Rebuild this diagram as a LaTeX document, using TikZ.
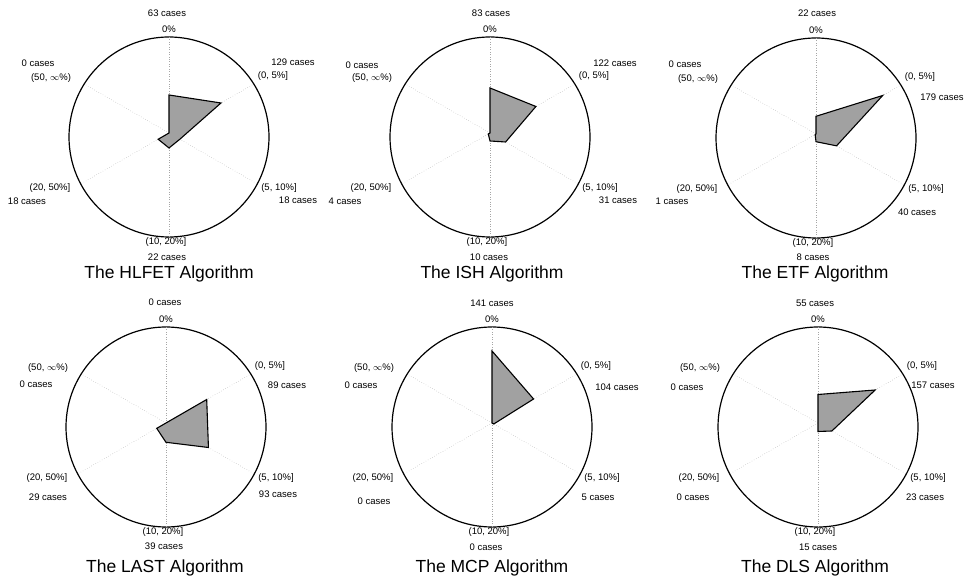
\documentclass[tikz,border=0pt]{standalone}
\usepackage{fontspec}
\setmainfont{Liberation Sans}
\usetikzlibrary{calc}

% circle, six spokes and the interval labels round a hub
\newcommand{\radarframe}[1]{%
  \draw [rim] ([yshift=-4pt]#1) circle (100pt);
  \begin{scope}
    \clip ([yshift=-4pt]#1) circle (100pt);
    \foreach \ang in {90,30,-30,-90,-150,150}
      \draw [spoke] (#1) -- ++(\ang:120pt);
  \end{scope}
  \node [lab] (#1-k0) at ($(#1)+(0,104)$)     {0\%};
  \node [lab] (#1-k1) at ($(#1)+(104,57)$)    {(0, 5\%]};
  \node [lab] (#1-k2) at ($(#1)+(110,-55)$)   {(5, 10\%]};
  \node [lab] (#1-k3) at ($(#1)+(-3,-109)$)   {(10, 20\%]};
  \node [lab] (#1-k4) at ($(#1)+(-119,-55)$)  {(20, 50\%]};
  \node [lab] (#1-k5) at ($(#1)+(-118,55)$)   {(50, $\infty$\%)};
}

\begin{document}
\begin{tikzpicture}[x=1pt,y=1pt,
    rim/.style={line width=1.2pt},
    spoke/.style={dotted,line width=0.45pt,black!35},
    area/.style={draw,line width=1.1pt,fill=black!37,line join=miter},
    lab/.style={font=\fontsize{9.5}{11}\selectfont,inner sep=0pt},
    ttl/.style={font=\fontsize{17.5}{21}\selectfont,inner sep=0pt}]

  \useasboundingbox (0,0) rectangle (968,585);

  \coordinate (hlfet) at (169,452);
  \coordinate (ish)   at (490,452);
  \coordinate (etf)   at (816,451);
  \coordinate (last)  at (166,162);
  \coordinate (mcp)   at (492,162);
  \coordinate (dls)   at (818,162);

  % HLFET
  \radarframe{hlfet}
  \begin{scope}[shift={(hlfet)}]
    \draw [area] (90:38) -- (30:60) -- (-30:12.5) -- (-90:15) -- (210:12.5) -- (150:0) -- cycle;
  \end{scope}
  \node [lab] (hlfet-n0) at ($(hlfet)+(-2,120)$)    {63 cases};
  \node [lab] (hlfet-n1) at ($(hlfet)+(124,71)$)    {129 cases};
  \node [lab] (hlfet-n2) at ($(hlfet)+(129,-67)$)   {18 cases};
  \node [lab] (hlfet-n3) at ($(hlfet)+(-2,-124)$)   {22 cases};
  \node [lab] (hlfet-n4) at ($(hlfet)+(-142,-68)$)  {18 cases};
  \node [lab] (hlfet-n5) at ($(hlfet)+(-131,70)$)   {0 cases};
  \node [ttl] (hlfet-t)  at ($(hlfet)+(0,-141)$)    {The HLFET Algorithm};

  % ISH
  \radarframe{ish}
  \begin{scope}[shift={(ish)}]
    \draw [area] (90:45) -- (30:53) -- (-30:18) -- (-90:8) -- (210:2) -- (150:0) -- cycle;
  \end{scope}
  \node [lab] (ish-n0) at ($(ish)+(1,120)$)     {83 cases};
  \node [lab] (ish-n1) at ($(ish)+(125,70)$)    {122 cases};
  \node [lab] (ish-n2) at ($(ish)+(128,-67)$)   {31 cases};
  \node [lab] (ish-n3) at ($(ish)+(-1,-124)$)   {10 cases};
  \node [lab] (ish-n4) at ($(ish)+(-145,-68)$)  {4 cases};
  \node [lab] (ish-n5) at ($(ish)+(-128,68)$)   {0 cases};
  \node [ttl] (ish-t)  at ($(ish)+(2,-141)$)    {The ISH Algorithm};

  % ETF
  \radarframe{etf}
  \begin{scope}[shift={(etf)}]
    \draw [area] (90:17.7) -- (30:77) -- (-30:23.7) -- (-90:7.7) -- (210:1) -- (150:0) -- cycle;
  \end{scope}
  \node [lab] (etf-n0) at ($(etf)+(1,121)$)     {22 cases};
  \node [lab] (etf-n1) at ($(etf)+(126,37)$)    {179 cases};
  \node [lab] (etf-n2) at ($(etf)+(101,-78)$)   {40 cases};
  \node [lab] (etf-n3) at ($(etf)+(-3,-123)$)   {8 cases};
  \node [lab] (etf-n4) at ($(etf)+(-144,-67)$)  {1 cases};
  \node [lab] (etf-n5) at ($(etf)+(-131,70)$)   {0 cases};
  \node [ttl] (etf-t)  at ($(etf)+(-1,-140)$)   {The ETF Algorithm};

  % LAST
  \radarframe{last}
  \begin{scope}[shift={(last)}]
    \draw [area] (90:0) -- (30:47) -- (-30:49) -- (-90:19.3) -- (210:10.7) -- (150:0) -- cycle;
  \end{scope}
  \node [lab] (last-n0) at ($(last)+(-1,121)$)    {0 cases};
  \node [lab] (last-n1) at ($(last)+(121,38)$)    {89 cases};
  \node [lab] (last-n2) at ($(last)+(112,-71)$)   {93 cases};
  \node [lab] (last-n3) at ($(last)+(-2,-123)$)   {39 cases};
  \node [lab] (last-n4) at ($(last)+(-118,-74)$)  {29 cases};
  \node [lab] (last-n5) at ($(last)+(-130,39)$)   {0 cases};
  \node [ttl] (last-t)  at ($(last)+(-1,-145)$)   {The LAST Algorithm};

  % MCP
  \radarframe{mcp}
  \begin{scope}[shift={(mcp)}]
    \draw [area] (90:72) -- (30:48) -- (-30:2) -- (-90:0) -- (210:0) -- (150:0) -- cycle;
  \end{scope}
  \node [lab] (mcp-n0) at ($(mcp)+(0,120)$)     {141 cases};
  \node [lab] (mcp-n1) at ($(mcp)+(125,36)$)    {104 cases};
  \node [lab] (mcp-n2) at ($(mcp)+(106,-74)$)   {5 cases};
  \node [lab] (mcp-n3) at ($(mcp)+(-6,-124)$)   {0 cases};
  \node [lab] (mcp-n4) at ($(mcp)+(-118,-78)$)  {0 cases};
  \node [lab] (mcp-n5) at ($(mcp)+(-131,38)$)   {0 cases};
  \node [ttl] (mcp-t)  at ($(mcp)+(0,-145)$)    {The MCP Algorithm};

  % DLS
  \radarframe{dls}
  \begin{scope}[shift={(dls)}]
    \draw [area] (90:28.5) -- (30:66) -- (-30:16) -- (-90:8.5) -- (210:0) -- (150:0) -- cycle;
  \end{scope}
  \node [lab] (dls-n0) at ($(dls)+(-3,120)$)    {55 cases};
  \node [lab] (dls-n1) at ($(dls)+(115,38)$)    {157 cases};
  \node [lab] (dls-n2) at ($(dls)+(107,-74)$)   {23 cases};
  \node [lab] (dls-n3) at ($(dls)+(0,-124)$)    {15 cases};
  \node [lab] (dls-n4) at ($(dls)+(-125,-74)$)  {0 cases};
  \node [lab] (dls-n5) at ($(dls)+(-131,36)$)   {0 cases};
  \node [ttl] (dls-t)  at ($(dls)+(-3,-145)$)   {The DLS Algorithm};
\end{tikzpicture}
\end{document}
